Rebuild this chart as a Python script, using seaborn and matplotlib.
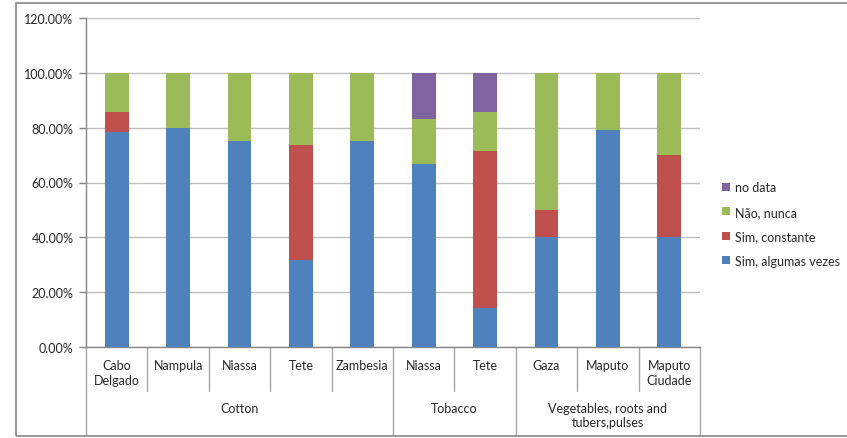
import pandas as pd
import matplotlib.pyplot as plt
import matplotlib.transforms as mtransforms
from matplotlib.patches import Rectangle, Patch
from matplotlib.ticker import FuncFormatter
import seaborn as sns

# Data (percent of respondents)
groups = ["Cotton"] * 5 + ["Tobacco"] * 2 + ["Vegetables, roots and\ntubers,pulses"] * 3
regions = ["Cabo\nDelgado", "Nampula", "Niassa", "Tete", "Zambesia",
           "Niassa", "Tete", "Gaza", "Maputo", "Maputo\nCiudade"]
sim_algumas = [78.57, 80.0, 75.0, 31.58, 75.0, 66.67, 14.29, 40.0, 79.17, 40.0]
sim_constante = [7.14, 0.0, 0.0, 42.11, 0.0, 0.0, 57.14, 10.0, 0.0, 30.0]
nao_nunca = [14.29, 20.0, 25.0, 26.32, 25.0, 16.67, 14.29, 50.0, 20.83, 30.0]
no_data = [0.0, 0.0, 0.0, 0.0, 0.0, 16.67, 14.29, 0.0, 0.0, 0.0]

series_names = ["Sim, algumas vezes", "Sim, constante", "Não, nunca", "no data"]
colors = ["#4F81BD", "#C0504D", "#9BBB59", "#8064A2"]

sns.set_style("white")
plt.rcParams['font.family'] = ['Lato', 'DejaVu Sans']

df = pd.DataFrame({
    "key": [f"{g}|{r}|{i}" for i, (g, r) in enumerate(zip(groups, regions))],
    "s1": sim_algumas, "s2": sim_constante, "s3": nao_nunca, "s4": no_data,
})
# cumulative tops for stacking
df["c1"] = df["s1"]
df["c2"] = df["c1"] + df["s2"]
df["c3"] = df["c2"] + df["s3"]
df["c4"] = df["c3"] + df["s4"]
order = list(df["key"])

fig = plt.figure(figsize=(8.47, 4.39), dpi=100)
ax = fig.add_axes([86 / 847, 1 - 348 / 439, (700 - 86) / 847, (348 - 19) / 439])

# draw from the top layer down so lower layers cover upper ones
for col, c in zip(["c4", "c3", "c2", "c1"], colors[::-1]):
    sns.barplot(data=df, x="key", y=col, order=order, color=c, width=0.39,
                saturation=1, linewidth=0, edgecolor="none", ax=ax, zorder=3)

ax.set_ylim(0, 120)
ax.set_yticks(range(0, 121, 20))
ax.yaxis.set_major_formatter(FuncFormatter(lambda v, p: f"{v:.2f}%"))
ax.grid(axis="y", color="#BFBFBF", linewidth=1, zorder=0)
ax.set_axisbelow(True)
ax.set_xlabel("")
ax.set_ylabel("")
ax.set_xlim(-0.5, len(regions) - 0.5)
ax.set_xticks(range(len(regions)))
ax.set_xticklabels(regions, fontsize=9, color="#262626", linespacing=1.25)
ax.tick_params(axis="x", length=0, pad=9)
ax.tick_params(axis="y", length=5, width=1, color="#868686", labelsize=9,
               labelcolor="#262626", left=True, pad=4)
for s in ["top", "right"]:
    ax.spines[s].set_visible(False)
for s in ["left", "bottom"]:
    ax.spines[s].set_color("#868686")
    ax.spines[s].set_linewidth(1)

# multi-level category separators
trans = mtransforms.blended_transform_factory(ax.transData, ax.transAxes)
sub_low = -44 / 329
grp_low = -88 / 329
boundaries = [i - 0.5 for i in range(len(regions) + 1)]
for i, b in enumerate(boundaries):
    if i == 0 or i == len(regions) or groups[i] != groups[i - 1]:
        low = grp_low
    else:
        low = sub_low
    ax.plot([b, b], [0, low], transform=trans, color="#A6A6A6", lw=1, clip_on=False)

# group labels
seen = []
for g in groups:
    if g not in seen:
        seen.append(g)
for g in seen:
    idx = [i for i, gg in enumerate(groups) if gg == g]
    mid = (idx[0] + idx[-1]) / 2
    ax.text(mid, -55 / 329, g, transform=trans, ha="center", va="top",
            fontsize=9, color="#262626", linespacing=1.25)

# legend (reverse order, like the original)
handles = [Patch(facecolor=c, edgecolor="none") for c in colors][::-1]
leg = fig.legend(handles, series_names[::-1], loc="upper left",
                 bbox_to_anchor=(711 / 847, 1 - 171 / 439), frameon=False,
                 fontsize=9, handlelength=0.6, handleheight=0.6,
                 handletextpad=0.4, labelspacing=1.0)
for t in leg.get_texts():
    t.set_color("#262626")

# chart area border
fig.patches.append(Rectangle((16 / 847, 1 - 437 / 439), 0.99, (437 - 4) / 439,
                             transform=fig.transFigure, fill=False,
                             edgecolor="#868686", linewidth=1.2))

plt.savefig("out.png", dpi=100)
